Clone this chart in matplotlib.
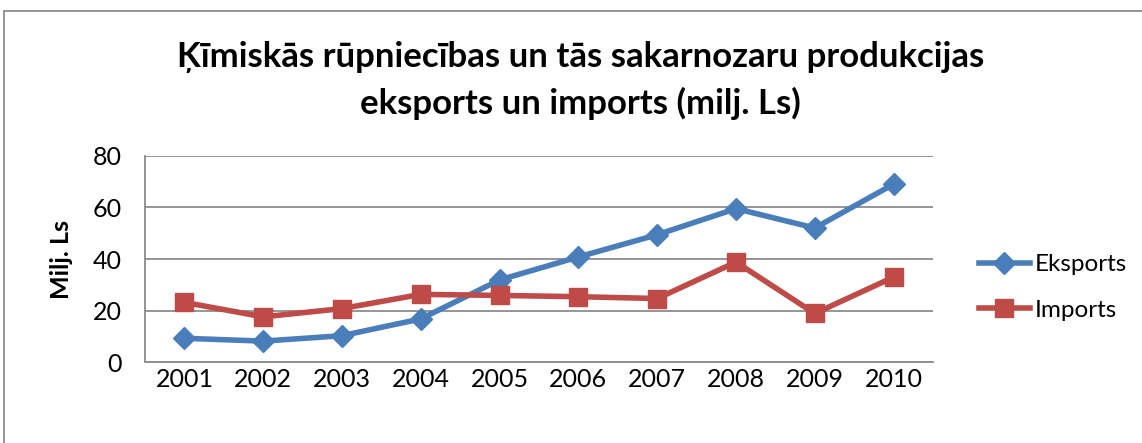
import matplotlib.pyplot as plt
from matplotlib.patches import Rectangle

years = ['2001', '2002', '2003', '2004', '2005', '2006', '2007', '2008', '2009', '2010']
eksports = [9.3, 8.2, 10.3, 16.8, 31.9, 40.8, 49.4, 59.5, 52.0, 69.0]
imports = [23.2, 17.6, 20.8, 26.3, 25.9, 25.4, 24.7, 38.8, 18.9, 33.0]

plt.rcParams['font.family'] = ['Lato', 'DejaVu Sans']

W, H = 1142, 443
fig = plt.figure(figsize=(W / 100, H / 100), dpi=100)

# chart border (right and bottom edges are cut off in the picture)
fig.patches.append(Rectangle((4 / W, -0.1), 1.2, 1 - 11 / H + 0.1, transform=fig.transFigure,
                             fill=False, edgecolor='#8c8c8c', linewidth=1.3))

ax = fig.add_axes([145 / W, 1 - 362.3 / H, (933 - 145) / W, (362.3 - 155.7) / H])

x = range(len(years))
ax.plot(x, eksports, color='#4a7ebb', linewidth=4, marker='D', markersize=11, label='Eksports')
ax.plot(x, imports, color='#be4b48', linewidth=4, marker='s', markersize=13, label='Imports')

ax.set_xlim(-0.5, len(years) - 0.5)
ax.set_ylim(0, 80)
ax.set_yticks([0, 20, 40, 60, 80])
ax.set_xticks(list(x))
ax.set_xticklabels(years)
ax.tick_params(length=0, labelsize=18)
ax.tick_params(axis='x', pad=4)
ax.tick_params(axis='y', pad=17)
ax.grid(axis='y', color='#8c8c8c', linewidth=1.3)
ax.set_axisbelow(True)
for side in ['top', 'right']:
    ax.spines[side].set_visible(False)
for side in ['left', 'bottom']:
    ax.spines[side].set_color('#8c8c8c')
    ax.spines[side].set_linewidth(1.3)

ax.set_ylabel('Milj. Ls', fontsize=18, fontweight='bold', labelpad=14)

fig.text(0.5 * (178 + 983) / W, 1 - 57 / H, 'Ķīmiskās rūpniecības un tās sakarnozaru produkcijas',
         ha='center', va='center', fontsize=25, fontweight='bold')
fig.text(0.5 * (178 + 983) / W, 1 - 103 / H, 'eksports un imports (milj. Ls)',
         ha='center', va='center', fontsize=25, fontweight='bold')

ax.legend(loc='center left', bbox_to_anchor=(1.03, 0.362), frameon=False, fontsize=17.5,
          handlelength=2.1, labelspacing=1.0, handletextpad=0.2)

fig.savefig('out.png', dpi=100)
